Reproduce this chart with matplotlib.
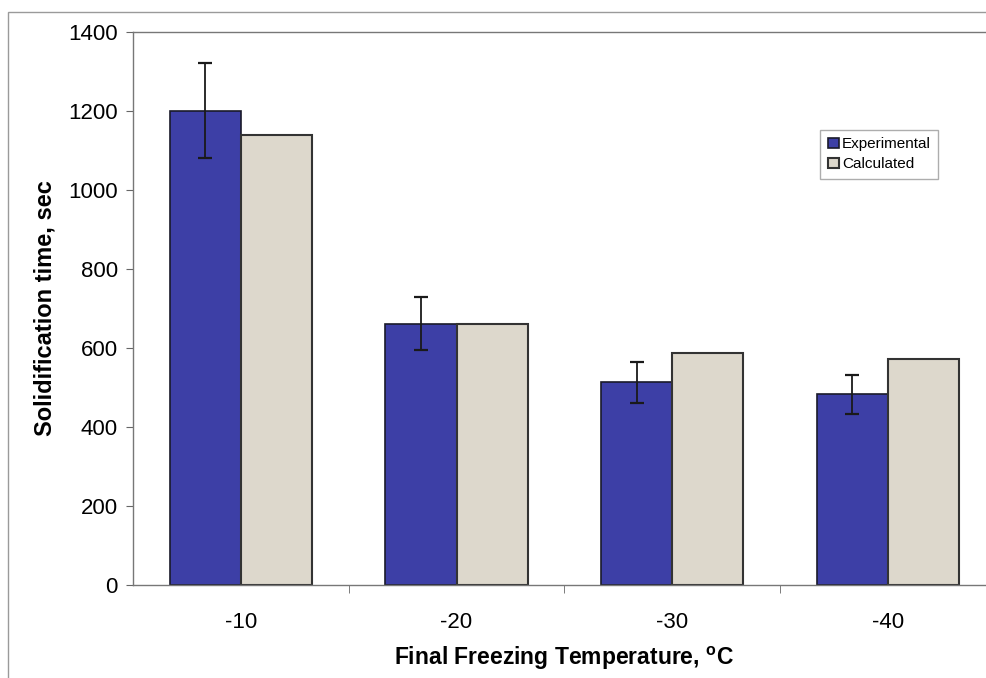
import numpy as np
import matplotlib
matplotlib.use("Agg")
from matplotlib import pyplot as plt
from matplotlib.patches import Rectangle

# final freezing temperatures and solidification times (sec)
temperatures = ["-10", "-20", "-30", "-40"]
experimental = [1200, 662, 513, 483]
experimental_err = [120, 67, 51, 49]
calculated = [1140, 662, 587, 572]

plt.rcParams["font.family"] = ["Liberation Sans", "DejaVu Sans"]

fig = plt.figure(figsize=(9.86, 6.78), dpi=100)
ax = fig.add_axes([0.1349, 0.137, 0.875, 0.816])

# outer chart frame
fig.patches.append(Rectangle((8 / 986, -0.01), 1.0, 1 - 12 / 678 + 0.01,
                             transform=fig.transFigure, fill=False,
                             edgecolor="#9a9a9a", linewidth=1.0))

x = np.arange(len(temperatures))
width = 0.33

ax.bar(x - width / 2, experimental, width, color="#3d3fa6",
       edgecolor="#1a1a2a", linewidth=1.2, label="Experimental", zorder=2)
ax.bar(x + width / 2, calculated, width, color="#ddd8cc",
       edgecolor="#333333", linewidth=1.5, label="Calculated", zorder=2)
ax.errorbar(x - width / 2, experimental, yerr=experimental_err, fmt="none",
            ecolor="#1a1a1a", elinewidth=1.3, capsize=5, capthick=1.6, zorder=3)

ax.set_xlim(-0.5, len(temperatures) - 0.5)
ax.set_ylim(0, 1400)
ax.set_yticks(range(0, 1401, 200))

# category labels sit between the boundary ticks
ax.set_xticks(x)
ax.set_xticklabels(temperatures, fontsize=16)
ax.set_xticks(np.arange(0.5, len(temperatures) - 0.5, 1), minor=True)
ax.tick_params(axis="x", which="major", length=0, pad=19)
ax.tick_params(axis="x", which="minor", length=6, direction="out", color="#666666")
ax.tick_params(axis="y", length=5, direction="out", color="#666666",
               labelsize=16, pad=6)

for side in ["left", "bottom", "top"]:
    ax.spines[side].set_color("#777777")
    ax.spines[side].set_linewidth(1.0)
ax.spines["right"].set_visible(False)

ax.set_ylabel("Solidification time, sec", fontsize=17, fontweight="bold", labelpad=8)
ax.set_xlabel("Final Freezing Temperature, $\\mathregular{^oC}$", fontsize=16.5,
              fontweight="bold", labelpad=9)

leg = ax.legend(loc="upper left", bbox_to_anchor=(0.788, 0.837), fontsize=11,
                frameon=True, fancybox=False, handlelength=0.7, handleheight=0.7,
                handletextpad=0.2, borderpad=0.5, labelspacing=0.4)
leg.get_frame().set_edgecolor("#999999")
leg.get_frame().set_linewidth(1.0)

fig.savefig("out.png", dpi=100)
